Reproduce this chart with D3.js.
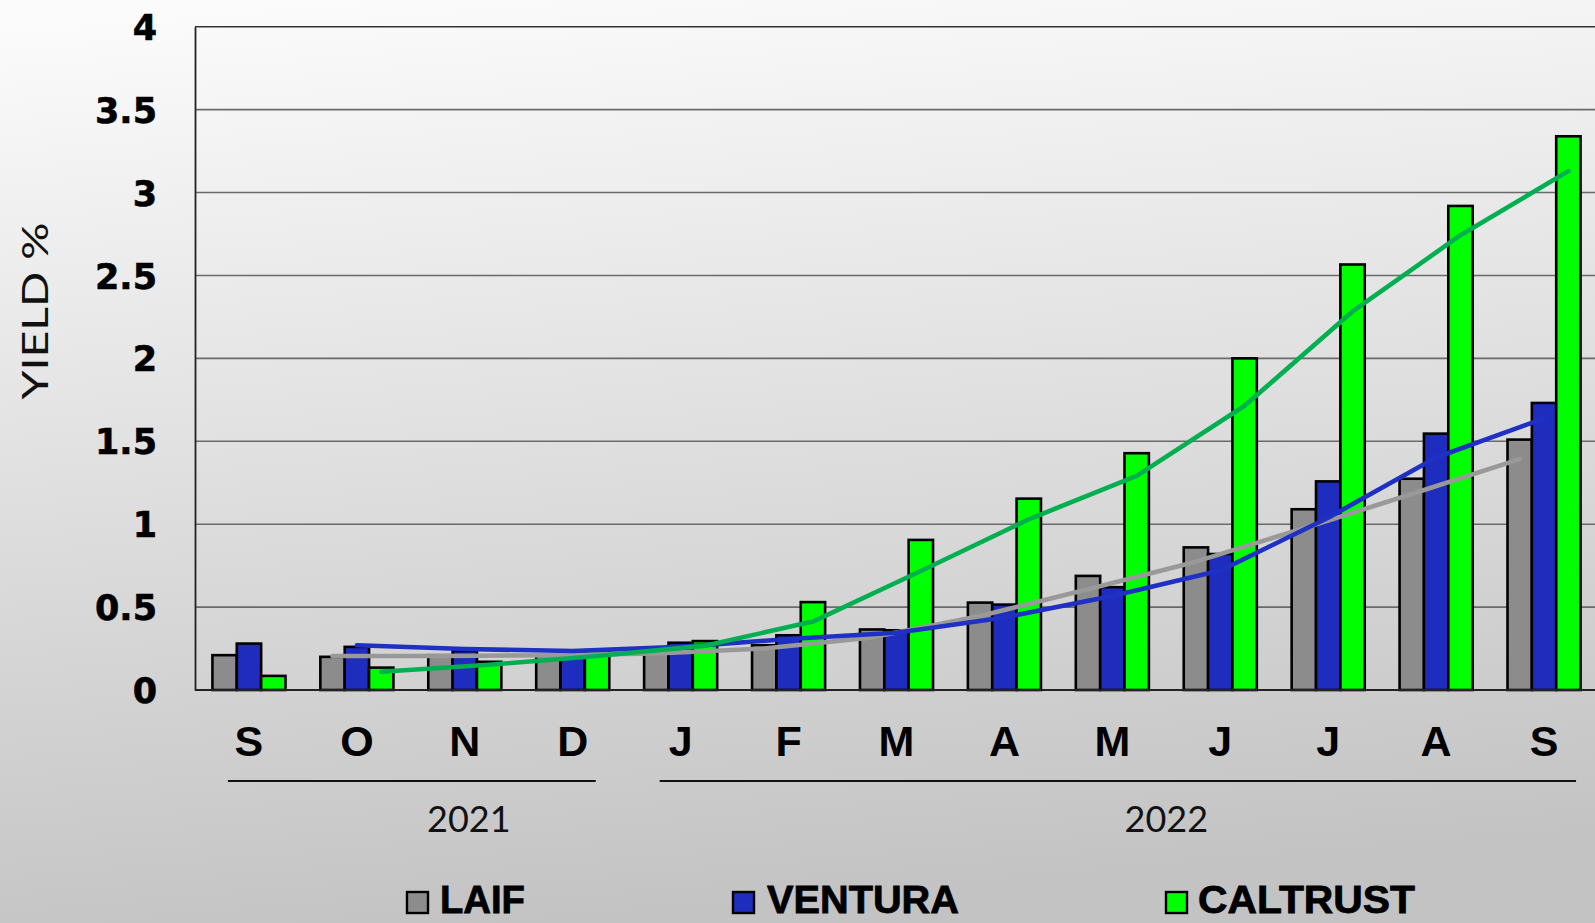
<!DOCTYPE html>
<html>
<head>
<meta charset="utf-8">
<script src="https://cdn.jsdelivr.net/npm/d3@7"></script>
<style>
  html, body { margin: 0; padding: 0; overflow: hidden; }
  svg { display: block; }
</style>
</head>
<body>
<svg id="chart" width="1595" height="923"></svg>
<script>
// ---- Data ----
const months = ["S", "O", "N", "D", "J", "F", "M", "A", "M", "J", "J", "A", "S"];
const seriesNames = ["LAIF", "VENTURA", "CALTRUST"];
const laif     = [0.21, 0.20, 0.21, 0.21, 0.23, 0.27, 0.365, 0.527, 0.688, 0.86, 1.09, 1.274, 1.51];
const ventura  = [0.28, 0.26, 0.235, 0.235, 0.285, 0.33, 0.36, 0.515, 0.62, 0.82, 1.258, 1.546, 1.731];
const caltrust = [0.085, 0.135, 0.17, 0.24, 0.295, 0.53, 0.905, 1.154, 1.428, 2.0, 2.566, 2.919, 3.339];
const yTicks = [0, 0.5, 1, 1.5, 2, 2.5, 3, 3.5, 4];
const yearLabels = ["2021", "2022"];
const yearSpans = [[0, 3], [4, 12]];   // category index ranges
const yAxisTitle = "YIELD %";

// ---- Styles ----
const barColors = ["#8c8c8c", "#1e2dbd", "#00ff00"];
const lineColors = ["#999999", "#1f30c4", "#00b050"];
const seriesValues = [laif, ventura, caltrust];

const svg = d3.select("#chart");
const W = 1595, H = 923;

// background gradient
const defs = svg.append("defs");
const grad = defs.append("linearGradient").attr("id", "bg")
  .attr("x1", "0.2").attr("y1", "0").attr("x2", "0.35").attr("y2", "1");
grad.append("stop").attr("offset", "0").attr("stop-color", "#fbfbfb");
grad.append("stop").attr("offset", "0.55").attr("stop-color", "#dcdcdc");
grad.append("stop").attr("offset", "1").attr("stop-color", "#c3c3c3");
svg.append("rect").attr("width", W).attr("height", H).attr("fill", "url(#bg)");

const plotL = 195, plotR = 1598, plotT = 26.7, plotB = 690;

const x = d3.scaleBand().domain(d3.range(months.length))
  .range([plotL, plotR]).paddingInner(0.323).paddingOuter(0.1615);
const xs = d3.scaleBand().domain(d3.range(seriesNames.length))
  .range([0, x.bandwidth()]).padding(0);
const y = d3.scaleLinear().domain([0, 4]).range([plotB, plotT]);

// gridlines
svg.append("g").selectAll("line").data(yTicks.filter(d => d > 0)).join("line")
  .attr("x1", plotL).attr("x2", plotR)
  .attr("y1", d => y(d)).attr("y2", d => y(d))
  .attr("stroke", d => d === 4 ? "#333" : "#6a6a6a").attr("stroke-width", 1.6);

// y axis via d3.axisLeft (line only), custom labels
const yAxis = svg.append("g").attr("transform", `translate(${plotL},0)`)
  .call(d3.axisLeft(y).tickValues(yTicks).tickSize(0).tickFormat(d3.format("")));
yAxis.select(".domain").attr("stroke", "#222").attr("stroke-width", 1.8);
yAxis.selectAll("text")
  .attr("x", 157 - plotL).attr("dy", "0.36em")
  .attr("text-anchor", "end")
  .attr("font-family", "DejaVu Sans").attr("font-weight", "bold")
  .attr("font-size", 35).attr("fill", "#000")
  .attr("stroke", "#000").attr("stroke-width", 0.6);

// bars
const groups = svg.append("g").selectAll("g").data(months.map((m, i) => i)).join("g")
  .attr("transform", i => `translate(${x(i)},0)`);
groups.selectAll("rect").data(i => seriesValues.map((vals, s) => ({ s, v: vals[i] }))).join("rect")
  .attr("x", d => xs(d.s)).attr("width", xs.bandwidth())
  .attr("y", d => y(d.v)).attr("height", d => y(0) - y(d.v))
  .attr("fill", d => barColors[d.s]).attr("stroke", "#000").attr("stroke-width", 2.6);

// baseline
svg.append("line").attr("x1", plotL).attr("x2", plotR).attr("y1", y(0)).attr("y2", y(0))
  .attr("stroke", "#222").attr("stroke-width", 1.8);

// 2-period moving average trendlines
seriesValues.forEach((vals, s) => {
  const pts = [];
  for (let i = 1; i < vals.length; i++) {
    pts.push({ i, v: (vals[i - 1] + vals[i]) / 2 });
  }
  const line = d3.line()
    .x(d => x(d.i) + xs(s) + xs.bandwidth() / 2)
    .y(d => y(d.v))
    .curve(d3.curveLinear);
  svg.append("path").datum(pts).attr("d", line)
    .attr("fill", "none").attr("stroke", lineColors[s]).attr("stroke-width", 4.6)
    .attr("stroke-linejoin", "round").attr("stroke-linecap", "round");
});

// month labels
svg.append("g").selectAll("text").data(months).join("text")
  .attr("x", (d, i) => x(i) + x.bandwidth() / 2).attr("y", 756)
  .attr("text-anchor", "middle")
  .attr("font-family", "Liberation Sans, Arial").attr("font-weight", "bold")
  .attr("font-size", 43).attr("fill", "#000").text(d => d);

// year brackets
const yearLineX = [[-21, 23], [-21, 32]];
yearSpans.forEach((sp, k) => {
  const x1 = x(sp[0]) + x.bandwidth() / 2 + yearLineX[k][0];
  const x2 = x(sp[1]) + x.bandwidth() / 2 + yearLineX[k][1];
  svg.append("line").attr("x1", x1).attr("x2", x2).attr("y1", 781).attr("y2", 781)
    .attr("stroke", "#111").attr("stroke-width", 2);
});
const yearX = [x(2) + x.bandwidth() / 2 + 4, (x(8) + x(9)) / 2 + x.bandwidth() / 2];
svg.append("g").selectAll("text").data(yearLabels).join("text")
  .attr("x", (d, k) => yearX[k]).attr("y", 832)
  .attr("text-anchor", "middle")
  .attr("font-family", "Lato").attr("font-size", 36).attr("fill", "#111")
  .text(d => d);

// y axis title
svg.append("text")
  .attr("transform", "translate(48,311) rotate(-90)")
  .attr("text-anchor", "middle")
  .attr("font-family", "Lato").attr("font-size", 36).attr("fill", "#111")
  .attr("textLength", 177).attr("lengthAdjust", "spacingAndGlyphs")
  .text(yAxisTitle);

// legend
const legendSq = [407, 733, 1166];
const legendTxt = [[440, 85], [767, 192], [1198, 217]];
seriesNames.forEach((name, s) => {
  svg.append("rect").attr("x", legendSq[s]).attr("y", 892).attr("width", 21).attr("height", 21)
    .attr("fill", barColors[s]).attr("stroke", "#000").attr("stroke-width", 2.4);
  svg.append("text").attr("x", legendTxt[s][0]).attr("y", 913)
    .attr("font-family", "Liberation Sans, Arial").attr("font-weight", "bold")
    .attr("font-size", 38).attr("fill", "#000")
    .attr("stroke", "#000").attr("stroke-width", 0.8)
    .attr("textLength", legendTxt[s][1]).attr("lengthAdjust", "spacingAndGlyphs")
    .text(name);
});
</script>
</body>
</html>
